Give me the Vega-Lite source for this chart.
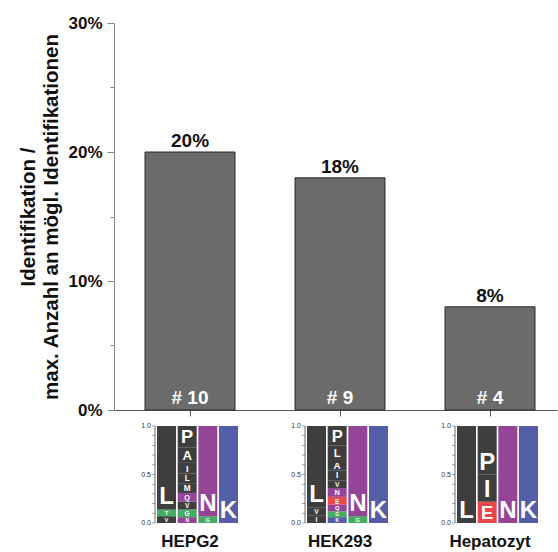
{
  "$schema": "https://vega.github.io/schema/vega-lite/v6.json",
  "width": 443,
  "height": 387,
  "autosize": {"type": "none"},
  "padding": {"left": 114, "top": 23, "right": 1, "bottom": 142},
  "background": "white",
  "config": {"view": {"stroke": null}, "font": "Liberation Sans"},
  "datasets": {
    "bars": [
      {"cell": "HEPG2", "pct": 0.20, "n": "# 10"},
      {"cell": "HEK293", "pct": 0.18, "n": "# 9"},
      {"cell": "Hepatozyt", "pct": 0.08, "n": "# 4"}
    ],
    "logo": [
      {"cell": "HEPG2", "pos": 1, "rank": 1, "letter": "V", "prob": 0.07},
      {"cell": "HEPG2", "pos": 1, "rank": 2, "letter": "T", "prob": 0.07},
      {"cell": "HEPG2", "pos": 1, "rank": 3, "letter": "L", "prob": 0.86},
      {"cell": "HEPG2", "pos": 2, "rank": 1, "letter": "N", "prob": 0.06},
      {"cell": "HEPG2", "pos": 2, "rank": 2, "letter": "G", "prob": 0.08},
      {"cell": "HEPG2", "pos": 2, "rank": 3, "letter": "V", "prob": 0.08},
      {"cell": "HEPG2", "pos": 2, "rank": 4, "letter": "Q", "prob": 0.09},
      {"cell": "HEPG2", "pos": 2, "rank": 5, "letter": "M", "prob": 0.10},
      {"cell": "HEPG2", "pos": 2, "rank": 6, "letter": "L", "prob": 0.10},
      {"cell": "HEPG2", "pos": 2, "rank": 7, "letter": "I", "prob": 0.11},
      {"cell": "HEPG2", "pos": 2, "rank": 8, "letter": "A", "prob": 0.16},
      {"cell": "HEPG2", "pos": 2, "rank": 9, "letter": "P", "prob": 0.22},
      {"cell": "HEPG2", "pos": 3, "rank": 1, "letter": "G", "prob": 0.07},
      {"cell": "HEPG2", "pos": 3, "rank": 2, "letter": "N", "prob": 0.93},
      {"cell": "HEPG2", "pos": 4, "rank": 1, "letter": "K", "prob": 1.0},
      {"cell": "HEK293", "pos": 1, "rank": 1, "letter": "I", "prob": 0.08},
      {"cell": "HEK293", "pos": 1, "rank": 2, "letter": "V", "prob": 0.08},
      {"cell": "HEK293", "pos": 1, "rank": 3, "letter": "L", "prob": 0.84},
      {"cell": "HEK293", "pos": 2, "rank": 1, "letter": "K", "prob": 0.06},
      {"cell": "HEK293", "pos": 2, "rank": 2, "letter": "G", "prob": 0.06},
      {"cell": "HEK293", "pos": 2, "rank": 3, "letter": "Q", "prob": 0.07},
      {"cell": "HEK293", "pos": 2, "rank": 4, "letter": "E", "prob": 0.08},
      {"cell": "HEK293", "pos": 2, "rank": 5, "letter": "N", "prob": 0.09},
      {"cell": "HEK293", "pos": 2, "rank": 6, "letter": "V", "prob": 0.08},
      {"cell": "HEK293", "pos": 2, "rank": 7, "letter": "I", "prob": 0.10},
      {"cell": "HEK293", "pos": 2, "rank": 8, "letter": "A", "prob": 0.12},
      {"cell": "HEK293", "pos": 2, "rank": 9, "letter": "L", "prob": 0.14},
      {"cell": "HEK293", "pos": 2, "rank": 10, "letter": "P", "prob": 0.20},
      {"cell": "HEK293", "pos": 3, "rank": 1, "letter": "G", "prob": 0.07},
      {"cell": "HEK293", "pos": 3, "rank": 2, "letter": "N", "prob": 0.93},
      {"cell": "HEK293", "pos": 4, "rank": 1, "letter": "K", "prob": 1.0},
      {"cell": "Hepatozyt", "pos": 1, "rank": 1, "letter": "L", "prob": 1.0},
      {"cell": "Hepatozyt", "pos": 2, "rank": 1, "letter": "E", "prob": 0.22},
      {"cell": "Hepatozyt", "pos": 2, "rank": 2, "letter": "I", "prob": 0.28},
      {"cell": "Hepatozyt", "pos": 2, "rank": 3, "letter": "P", "prob": 0.50},
      {"cell": "Hepatozyt", "pos": 3, "rank": 1, "letter": "N", "prob": 1.0},
      {"cell": "Hepatozyt", "pos": 4, "rank": 1, "letter": "K", "prob": 1.0}
    ],
    "lticks": [
      {"t": 0.0, "major": true, "cells": ["HEPG2", "HEK293", "Hepatozyt"]},
      {"t": 0.1, "major": false, "cells": ["HEPG2", "HEK293", "Hepatozyt"]},
      {"t": 0.2, "major": false, "cells": ["HEPG2", "HEK293", "Hepatozyt"]},
      {"t": 0.3, "major": false, "cells": ["HEPG2", "HEK293", "Hepatozyt"]},
      {"t": 0.4, "major": false, "cells": ["HEPG2", "HEK293", "Hepatozyt"]},
      {"t": 0.5, "major": true, "cells": ["HEPG2", "HEK293", "Hepatozyt"]},
      {"t": 0.6, "major": false, "cells": ["HEPG2", "HEK293", "Hepatozyt"]},
      {"t": 0.7, "major": false, "cells": ["HEPG2", "HEK293", "Hepatozyt"]},
      {"t": 0.8, "major": false, "cells": ["HEPG2", "HEK293", "Hepatozyt"]},
      {"t": 0.9, "major": false, "cells": ["HEPG2", "HEK293", "Hepatozyt"]},
      {"t": 1.0, "major": true, "cells": ["HEPG2", "HEK293", "Hepatozyt"]}
    ]
  },
  "resolve": {"scale": {"x": "independent", "y": "independent"}},
  "layer": [
    {
      "data": {"name": "bars"},
      "encoding": {
        "x": {
          "field": "cell",
          "type": "nominal",
          "scale": {"domain": ["HEPG2", "HEK293", "Hepatozyt"], "paddingInner": 0.4, "paddingOuter": 0.1767, "align": 0.585},
          "axis": {
            "title": null,
            "labelAngle": 0,
            "labelFontSize": 17,
            "labelFontWeight": "bold",
            "labelColor": "#111111",
            "labelPadding": 117,
            "tickSize": 6,
            "tickColor": "#555555",
            "domainColor": "#555555",
            "domainWidth": 1
          }
        }
      },
      "layer": [
        {
          "mark": {"type": "bar", "fill": "#6b6b6b", "stroke": "#2b2b2b", "strokeWidth": 1},
          "encoding": {
            "y": {
              "field": "pct",
              "type": "quantitative",
              "scale": {"domain": [0, 0.3]},
              "axis": {
                "values": [0, 0.05, 0.1, 0.15, 0.2, 0.25, 0.3],
                "format": ".0%",
                "labelExpr": "round(datum.value*100) % 10 == 0 ? datum.label : ''",
                "tickSize": {"condition": {"test": "round(datum.value*100) % 10 == 0", "value": 7}, "value": 4},
                "labelFontSize": 17,
                "labelFontWeight": "bold",
                "labelColor": "#111111",
                "labelPadding": 5,
                "tickColor": "#888888",
                "domainColor": "#888888",
                "grid": false,
                "title": ["Identifikation /", "max. Anzahl an mögl. Identifikationen"],
                "titleFontSize": 20.5,
                "titleFontWeight": "bold",
                "titleColor": "#111111",
                "titleLineHeight": 23,
                "titlePadding": 6
              }
            }
          }
        },
        {
          "mark": {"type": "text", "fontSize": 19, "fontWeight": "bold", "color": "#111111", "baseline": "alphabetic", "dy": -5},
          "encoding": {
            "y": {"field": "pct", "type": "quantitative"},
            "text": {"field": "pct", "type": "quantitative", "format": ".0%"}
          }
        },
        {
          "mark": {"type": "text", "fontSize": 19, "fontWeight": "bold", "color": "white", "baseline": "alphabetic", "dy": -6},
          "encoding": {
            "y": {"datum": 0, "type": "quantitative"},
            "text": {"field": "n"}
          }
        }
      ]
    },
    {
      "layer": [
        {
          "data": {"name": "logo"},
          "transform": [
            {"stack": "prob", "groupby": ["cell", "pos"], "sort": [{"field": "rank", "order": "ascending"}], "as": ["lo", "hi"], "offset": "zero"}
          ],
          "encoding": {
            "x": {"field": "cell", "type": "nominal", "scale": {"domain": ["HEPG2", "HEK293", "Hepatozyt"], "paddingInner": 0.4, "paddingOuter": 0.1767, "align": 0.585}, "axis": null},
            "xOffset": {"field": "pos", "type": "ordinal", "scale": {"domain": [1, 2, 3, 4], "range": [12, 93], "paddingInner": 0.08}},
            "y": {"field": "lo", "type": "quantitative", "scale": {"domain": [1.165, 5.1546], "zero": false, "nice": false}, "axis": null}
          },
          "layer": [
            {
              "mark": {"type": "rect", "fillOpacity": 0.82},
              "encoding": {
                "y2": {"field": "hi"},
                "color": {
                  "field": "letter",
                  "type": "nominal",
                  "scale": {
                    "domain": ["L", "P", "A", "I", "M", "V", "T", "G", "N", "Q", "K", "E"],
                    "range": ["#141414", "#141414", "#141414", "#141414", "#141414", "#141414", "#1c9b3f", "#1c9b3f", "#7d1c80", "#7d1c80", "#2e3a92", "#e31e24"]
                  },
                  "legend": null
                }
              }
            },
            {
              "mark": {"type": "text", "color": "white", "fontWeight": "bold", "baseline": "bottom"},
              "encoding": {
                "text": {"field": "letter"},
                "size": {"field": "prob", "type": "quantitative", "scale": {"type": "linear", "domain": [0, 0.29], "range": [0, 24], "clamp": true}, "legend": null}
              }
            }
          ]
        },
        {
          "data": {"name": "bars"},
          "mark": {"type": "rule", "color": "#444444", "strokeWidth": 0.8, "xOffset": -35},
          "encoding": {
            "x": {"field": "cell", "type": "nominal", "axis": null},
            "y": {"datum": 0, "type": "quantitative", "scale": {"domain": [1.165, 5.1546], "zero": false, "nice": false}, "axis": null},
            "y2": {"datum": 1}
          }
        },
        {
          "data": {"name": "lticks"},
          "transform": [{"flatten": ["cells"]}],
          "layer": [
            {
              "mark": {"type": "tick", "orient": "horizontal", "color": "#444444", "size": 3, "thickness": 0.7, "xOffset": -36.5},
              "encoding": {
                "x": {"field": "cells", "type": "nominal", "axis": null},
                "y": {"field": "t", "type": "quantitative", "scale": {"domain": [1.165, 5.1546], "zero": false, "nice": false}, "axis": null}
              }
            },
            {
              "transform": [{"filter": "datum.major"}],
              "mark": {"type": "text", "color": "#333333", "fontSize": 7, "align": "right", "baseline": "middle", "xOffset": -39},
              "encoding": {
                "x": {"field": "cells", "type": "nominal", "axis": null},
                "y": {"field": "t", "type": "quantitative", "axis": null},
                "text": {"field": "t", "type": "quantitative", "format": ".1f"}
              }
            }
          ]
        }
      ]
    }
  ]
}
